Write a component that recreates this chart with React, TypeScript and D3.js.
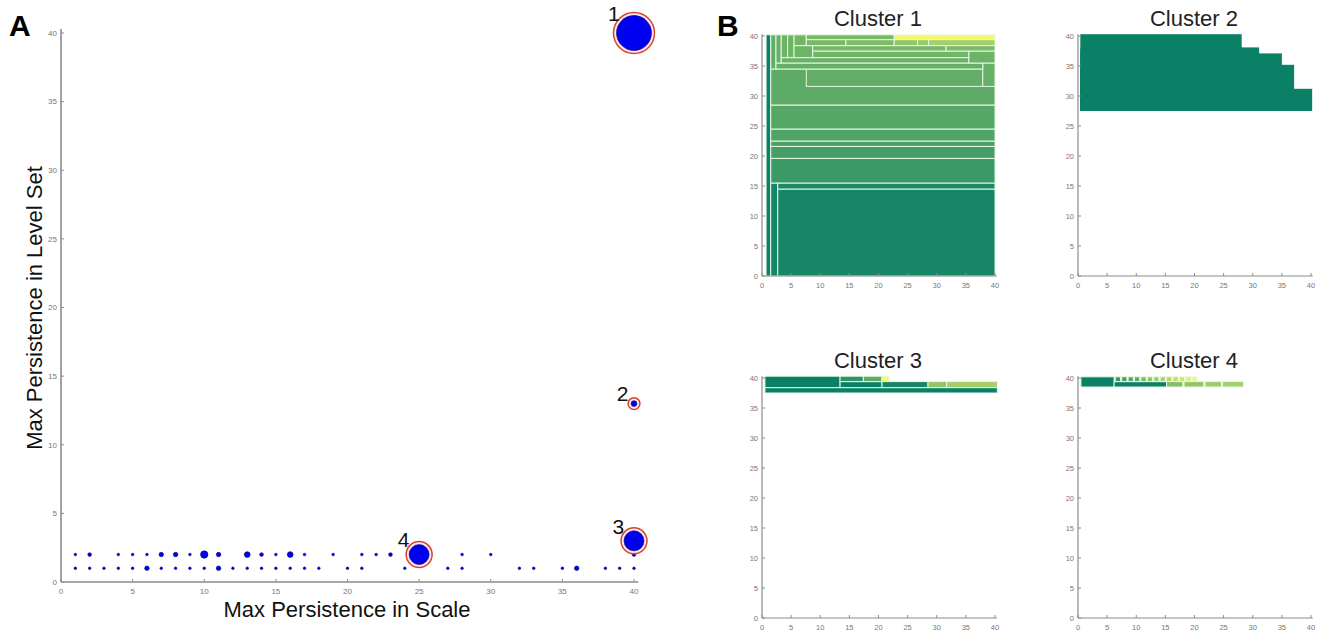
import React from 'react';
import * as d3 from 'd3';

// Panel A: [scale, level, count]
const rowLevel2 = [
  [1, 2, 1], [2, 2, 2], [4, 2, 1], [5, 2, 1], [6, 2, 1], [7, 2, 3], [8, 2, 3], [9, 2, 1],
  [10, 2, 8], [11, 2, 3], [13, 2, 5], [14, 2, 2], [15, 2, 1], [16, 2, 5], [17, 2, 1],
  [19, 2, 1], [21, 2, 1], [22, 2, 1], [23, 2, 2], [28, 2, 1], [30, 2, 1], [40, 2, 2],
];
const rowLevel1 = [
  [1, 1, 1], [2, 1, 1], [3, 1, 1], [4, 1, 1], [5, 1, 1], [6, 1, 3], [7, 1, 1], [8, 1, 1],
  [9, 1, 1], [10, 1, 1], [11, 1, 3], [12, 1, 1], [13, 1, 1], [14, 1, 1], [15, 1, 1],
  [16, 1, 1], [17, 1, 1], [18, 1, 1], [20, 1, 1], [21, 1, 1], [24, 1, 1], [27, 1, 1],
  [28, 1, 1], [32, 1, 1], [33, 1, 1], [35, 1, 1], [36, 1, 3], [38, 1, 1], [39, 1, 1], [40, 1, 1],
];
// labelled clusters: [id, scale, level, count]
const clusters = [
  [1, 40, 40, 181],
  [2, 40, 13, 5],
  [3, 40, 3, 59],
  [4, 25, 2, 59],
];

const axisTicks = [0, 5, 10, 15, 20, 25, 30, 35, 40];

// Panel B rectangles: [x0, x1, y0, y1, colour level 0..1]
const cluster1Rects = [
  [0.7, 1.5, 0, 40.2, 0],
  [1.5, 2.7, 0, 15.5, 0.04],
  [2.7, 40, 0, 14.5, 0.05],
  [2.7, 40, 14.5, 15.5, 0.07],
  [1.5, 40, 15.5, 19.6, 0.2],
  [1.5, 40, 19.6, 21.6, 0.24],
  [1.5, 40, 21.6, 22.5, 0.26],
  [1.5, 40, 22.5, 24.5, 0.28],
  [1.5, 40, 24.5, 28.5, 0.31],
  [1.5, 40, 28.5, 34.5, 0.34],
  [7.6, 37.9, 31.6, 34.5, 0.36],
  [37.9, 40, 31.6, 35.5, 0.37],
  [1.5, 2.4, 34.5, 40.2, 0.36],
  [2.4, 37.9, 34.5, 35.5, 0.37],
  [2.4, 3.3, 35.5, 40.2, 0.38],
  [3.3, 35.5, 35.5, 36.4, 0.39],
  [35.5, 40, 35.5, 37.5, 0.4],
  [3.3, 4.4, 36.4, 40.2, 0.4],
  [4.4, 5.5, 36.4, 40.2, 0.41],
  [5.5, 8.7, 36.4, 38.4, 0.41],
  [8.7, 35.5, 36.4, 37.5, 0.42],
  [8.7, 31.6, 37.5, 38.4, 0.44],
  [31.6, 40, 37.5, 38.4, 0.46],
  [5.5, 7.6, 38.4, 40.2, 0.43],
  [7.6, 14.4, 38.4, 39.4, 0.45],
  [14.4, 22.7, 38.4, 39.4, 0.47],
  [22.7, 26.7, 38.4, 39.4, 0.55],
  [26.7, 28.6, 38.4, 39.4, 0.58],
  [28.6, 40, 38.4, 39.4, 0.62],
  [7.6, 22.7, 39.4, 40.2, 0.45],
  [22.7, 40, 39.4, 40.2, 0.95],
];
const cluster2Rects = [
  [0.4, 40.2, 27.5, 31.2, 0],
  [0.4, 37.1, 27.5, 35.2, 0],
  [0.4, 35.0, 27.5, 37.1, 0],
  [0.4, 31.1, 27.5, 38.1, 0],
  [0.4, 28.1, 27.5, 40.3, 0],
];
const cluster3Rects = [
  [0.5, 40.4, 37.5, 38.4, 0],
  [0.5, 13.4, 38.4, 40.3, 0],
  [13.4, 20.6, 38.4, 39.4, 0],
  [13.4, 17.4, 39.4, 40.3, 0.15],
  [17.4, 20.6, 39.4, 40.3, 0.35],
  [20.6, 21.8, 39.4, 40.3, 0.95],
  [20.6, 28.5, 38.4, 39.4, 0.05],
  [28.5, 31.7, 38.4, 39.4, 0.55],
  [31.7, 40.4, 38.4, 39.4, 0.62],
];
const cluster4Rects = [
  [0.5, 6.2, 38.5, 40.2, 0],
  [6.2, 15.2, 38.5, 39.4, 0],
  [6.4, 7.3, 39.4, 40.2, 0.2],
  [7.5, 8.4, 39.4, 40.2, 0.25],
  [8.6, 9.5, 39.4, 40.2, 0.3],
  [9.7, 10.6, 39.4, 40.2, 0.35],
  [10.8, 11.7, 39.4, 40.2, 0.45],
  [11.9, 12.8, 39.4, 40.2, 0.55],
  [13.0, 13.9, 39.4, 40.2, 0.6],
  [14.1, 15.0, 39.4, 40.2, 0.65],
  [15.2, 16.1, 39.4, 40.2, 0.7],
  [16.3, 17.2, 39.4, 40.2, 0.75],
  [17.4, 18.3, 39.4, 40.2, 0.8],
  [18.5, 19.4, 39.4, 40.2, 0.88],
  [19.6, 20.4, 39.4, 40.2, 0.95],
  [15.2, 18.0, 38.5, 39.4, 0.5],
  [18.2, 21.6, 38.5, 39.4, 0.55],
  [21.8, 24.6, 38.5, 39.4, 0.6],
  [24.8, 28.4, 38.5, 39.4, 0.62],
];

const FONT = '"Liberation Sans", Arial, sans-serif';
const AXIS = '#8c8c8c';
const TICKTXT = '#777';
const summer = d3.interpolateRgb('#0a8066', '#ffff66');

const Axes = ({ x, y, size, lw }) => {
  const [x0] = x.range();
  const [y0] = y.range();
  return (
    <g>
      <line x1={x0} x2={x(40.3)} y1={y0} y2={y0} stroke={AXIS} strokeWidth={lw} />
      <line x1={x0} x2={x0} y1={y0} y2={y(40.3)} stroke={AXIS} strokeWidth={lw} />
      {axisTicks.map(t => (
        <g key={'x' + t}>
          <line x1={x(t)} x2={x(t)} y1={y0} y2={y0 - 3} stroke={AXIS} strokeWidth={1} />
          <text x={x(t)} y={y0 + size + 4} fontSize={size} fill={TICKTXT} textAnchor="middle" fontFamily={FONT}>{t}</text>
        </g>
      ))}
      {axisTicks.map(t => (
        <g key={'y' + t}>
          <line x1={x0} x2={x0 + 3} y1={y(t)} y2={y(t)} stroke={AXIS} strokeWidth={1} />
          <text x={x0 - 4} y={y(t) + size * 0.35} fontSize={size} fill={TICKTXT} textAnchor="end" fontFamily={FONT}>{t}</text>
        </g>
      ))}
    </g>
  );
};

const ClusterPlot = ({ title, rects, left, top, stroke }) => {
  const x = d3.scaleLinear().domain([0, 40]).range([left, left + 233]);
  const y = d3.scaleLinear().domain([0, 40]).range([top + 240, top]);
  return (
    <g>
      <text x={left + 116} y={top - 10} fontSize={22} textAnchor="middle" fontFamily={FONT} fill="#222">{title}</text>
      {rects.map((r, i) => (
        <rect key={i} x={x(r[0])} y={y(r[3])} width={x(r[1]) - x(r[0])} height={y(r[2]) - y(r[3])}
          fill={summer(r[4])} stroke={stroke ? '#e6f7e6' : 'none'} strokeWidth={1} />
      ))}
      <Axes x={x} y={y} size={7.5} lw={1.2} />
    </g>
  );
};

export default function App() {
  const xA = d3.scaleLinear().domain([0, 40]).range([61, 634]);
  const yA = d3.scaleLinear().domain([0, 40]).range([582, 33]);
  const rA = (n) => 1.3 * Math.sqrt(n);
  const dots = [...rowLevel1, ...rowLevel2];

  return (
    <svg width={1321} height={634} style={{ position: 'absolute', left: 0, top: 0, background: '#fff' }}>
      {/* Panel A */}
      <text x={9} y={36} fontSize={30} fontWeight="bold" fontFamily={FONT}>A</text>
      <Axes x={xA} y={yA} size={8} lw={1.6} />
      {dots.map((d, i) => (
        <circle key={i} cx={xA(d[0])} cy={yA(d[1])} r={rA(d[2])} fill="#0000f0" stroke="#000070" strokeWidth={0.6} />
      ))}
      {clusters.map(c => {
        const cx = xA(c[1]);
        const cy = yA(c[2]);
        const r = rA(c[3]);
        const rr = r + 3;
        return (
          <g key={c[0]}>
            <circle cx={cx} cy={cy} r={rr} fill="#fbe8ec" stroke="#d8432e" strokeWidth={1.5} />
            <circle cx={cx} cy={cy} r={r} fill="#0000f0" stroke="#000070" strokeWidth={0.6} />
            <text x={cx - rr * 0.6 - 2} y={cy - rr * 0.7 + 2} fontSize={21} textAnchor="end" fontFamily={FONT} fill="#111">{c[0]}</text>
          </g>
        );
      })}
      <text x={347} y={617} fontSize={22} textAnchor="middle" fontFamily={FONT} fill="#111">Max Persistence in Scale</text>
      <text transform="translate(42,308) rotate(-90)" fontSize={22} textAnchor="middle" fontFamily={FONT} fill="#111">Max Persistence in Level Set</text>

      {/* Panel B */}
      <text x={717} y={36} fontSize={30} fontWeight="bold" fontFamily={FONT}>B</text>
      <ClusterPlot title="Cluster 1" rects={cluster1Rects} left={762} top={36} stroke />
      <ClusterPlot title="Cluster 2" rects={cluster2Rects} left={1078} top={36} stroke={false} />
      <ClusterPlot title="Cluster 3" rects={cluster3Rects} left={762} top={378} stroke />
      <ClusterPlot title="Cluster 4" rects={cluster4Rects} left={1078} top={378} stroke />
    </svg>
  );
}
